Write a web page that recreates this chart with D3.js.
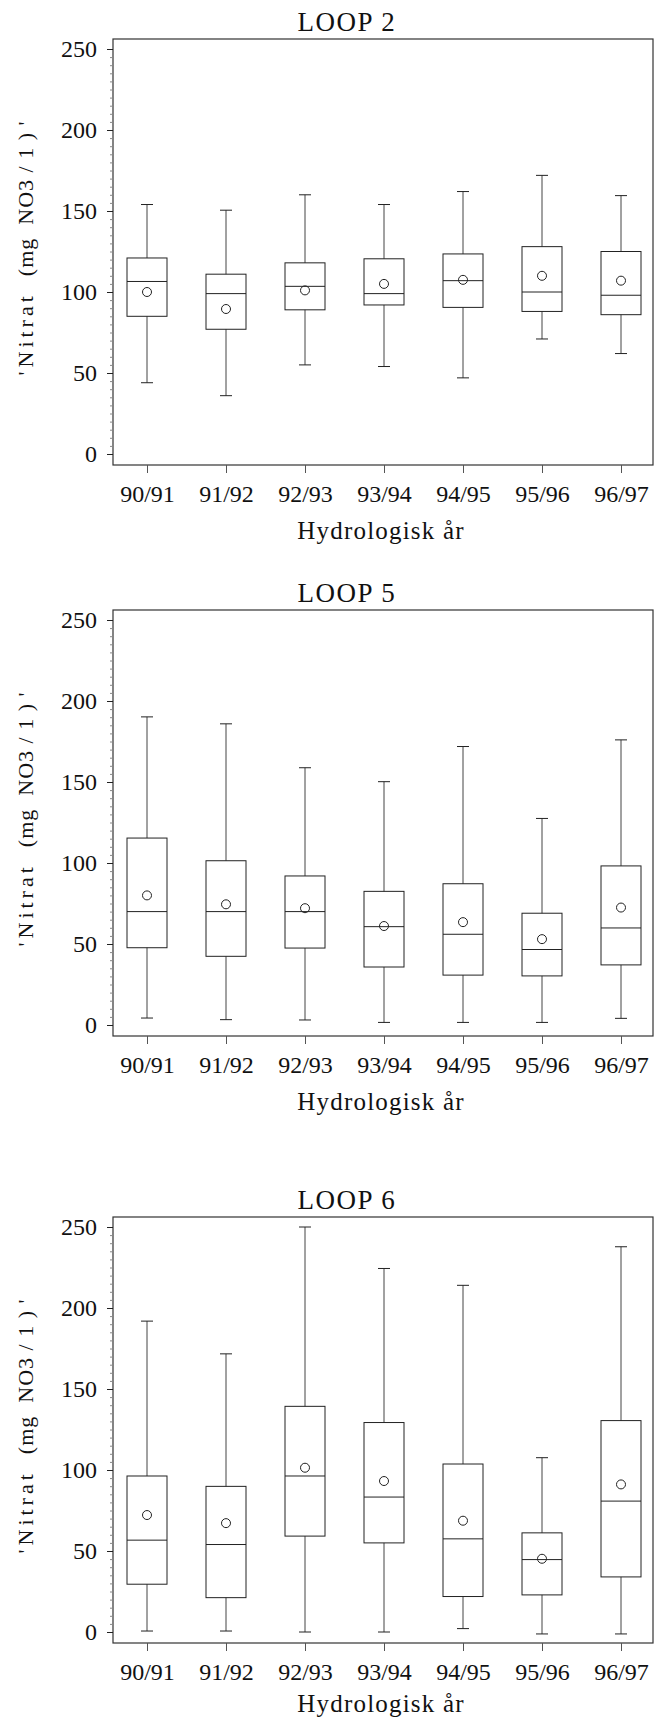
<!DOCTYPE html>
<html>
<head>
<meta charset="utf-8">
<script src="https://cdn.jsdelivr.net/npm/d3@7"></script>
<style>
  body { margin: 0; background: #fff; }
  svg { display: block; }
</style>
</head>
<body>
<div id="chart"></div>
<script>
// hydrological years on the x axis
const years = ["90/91", "91/92", "92/93", "93/94", "94/95", "95/96", "96/97"];
const yTicks = [0, 50, 100, 150, 200, 250];

// LOOP 2 (mg NO3/l)
const loop2Low  = [44, 36, 55, 54, 47, 71, 62];
const loop2Q1   = [85, 77, 89, 92, 90.5, 88, 86];
const loop2Med  = [106.5, 99, 103.5, 99, 107, 100, 98];
const loop2Q3   = [121, 111, 118, 120.5, 123.5, 128, 125];
const loop2High = [154, 150.5, 160, 154, 162, 172, 159.5];
const loop2Mean = [100, 89.5, 101, 105, 107.5, 110, 107];

// LOOP 5
const loop5Low  = [4.3, 3.3, 3.1, 1.6, 1.6, 1.6, 4.1];
const loop5Q1   = [47.7, 42.4, 47.5, 35.8, 30.8, 30.3, 37.1];
const loop5Med  = [70, 70, 70, 60.7, 56, 46.6, 59.9];
const loop5Q3   = [115.4, 101.4, 92, 82.5, 87.2, 69, 98.2];
const loop5High = [190.2, 185.9, 158.8, 150.2, 171.9, 127.5, 176];
const loop5Mean = [80, 74.5, 72.1, 61.1, 63.5, 53, 72.5];

// LOOP 6
const loop6Low  = [0.6, 0.6, 0, 0, 2.1, -1.2, -1.2];
const loop6Q1   = [29.5, 21.2, 59.2, 55, 21.9, 22.9, 34];
const loop6Med  = [56.7, 54, 96.3, 83.3, 57.5, 44.7, 80.8];
const loop6Q3   = [96.3, 89.9, 139.3, 129.3, 103.7, 61.2, 130.5];
const loop6High = [191.9, 171.7, 250, 224.4, 214, 107.6, 237.8];
const loop6Mean = [72.2, 67.2, 101.4, 93.2, 68.7, 45.2, 91.1];

const width = 654, height = 1720;
const left = 113, right = 653, frameH = 426;
const ink = "#222";

let svg = d3.select("#chart")
    .append("svg")
    .attr("width", width)
    .attr("height", height)
    .style("font-family", "'Liberation Serif', 'Times New Roman', serif");

function drawPanel(title, top, low, q1, med, q3, high, mean) {
    let y = d3.scaleLinear()
        .domain([0, 250])
        .range([top + 415, top + 10]);

    let x = d3.scalePoint()
        .domain(years)
        .range([left + 34, right - 32]);

    let g = svg.append("g");

    // title above the frame
    g.append("text")
        .attr("x", 347)
        .attr("y", top - 8)
        .attr("text-anchor", "middle")
        .attr("font-size", "27px")
        .attr("letter-spacing", "1.5px")
        .attr("fill", "#111")
        .text(title);

    // frame
    g.append("rect")
        .attr("x", left)
        .attr("y", top)
        .attr("width", right - left)
        .attr("height", frameH)
        .attr("fill", "none")
        .attr("stroke", "#333")
        .attr("stroke-width", 1.2);

    // minor ticks every 5
    let minor = g.append("g")
        .attr("transform", `translate(${left},0)`)
        .call(d3.axisLeft(y).tickValues(d3.range(0, 251, 5)).tickSize(3).tickFormat(""));
    minor.select(".domain").remove();
    minor.selectAll("line").attr("stroke", "#888");

    // major ticks and labels
    let yAxis = g.append("g")
        .attr("transform", `translate(${left},0)`)
        .call(d3.axisLeft(y).tickValues(yTicks).tickSize(6).tickPadding(10));
    yAxis.select(".domain").remove();
    yAxis.selectAll("line").attr("stroke", ink);
    yAxis.selectAll("text")
        .attr("font-family", "'Liberation Serif', serif")
        .attr("font-size", "24px")
        .attr("fill", "#111");

    // x axis ticks and year labels
    let xAxis = g.append("g")
        .attr("transform", `translate(0,${top + frameH})`)
        .call(d3.axisBottom(x).tickSize(8).tickPadding(12));
    xAxis.select(".domain").remove();
    xAxis.selectAll("line").attr("stroke", "#555");
    xAxis.selectAll("text")
        .attr("font-family", "'Liberation Serif', serif")
        .attr("font-size", "24px")
        .attr("fill", "#111");

    // x axis title (kept inside the page for the last panel)
    g.append("text")
        .attr("x", 381)
        .attr("y", Math.min(top + frameH + 74, height - 8))
        .attr("text-anchor", "middle")
        .attr("font-size", "25px")
        .attr("letter-spacing", "1.2px")
        .attr("fill", "#111")
        .text("Hydrologisk år");

    // y axis title
    let yt = g.append("text")
        .attr("transform", `translate(33,${top + 209}) rotate(-90)`)
        .attr("text-anchor", "middle")
        .attr("font-size", "22px")
        .style("white-space", "pre")
        .attr("fill", "#111");
    yt.append("tspan").attr("letter-spacing", "4px").text("'Nitrat ");
    yt.append("tspan").attr("letter-spacing", "1px").text(" (mg  NO3 / 1 ) '");

    let boxW = 40, capW = 12;

    years.forEach((yr, i) => {
        let cx = x(yr);

        // whiskers
        g.append("line")
            .attr("x1", cx).attr("x2", cx)
            .attr("y1", y(q3[i])).attr("y2", y(high[i]))
            .attr("stroke", "#444");
        g.append("line")
            .attr("x1", cx).attr("x2", cx)
            .attr("y1", y(q1[i])).attr("y2", y(low[i]))
            .attr("stroke", "#444");

        // caps
        [high[i], low[i]].forEach(v => {
            g.append("line")
                .attr("x1", cx - capW / 2).attr("x2", cx + capW / 2)
                .attr("y1", y(v)).attr("y2", y(v))
                .attr("stroke", ink);
        });

        // box
        g.append("rect")
            .attr("x", cx - boxW / 2)
            .attr("y", y(q3[i]))
            .attr("width", boxW)
            .attr("height", y(q1[i]) - y(q3[i]))
            .attr("fill", "none")
            .attr("stroke", ink);

        // median
        g.append("line")
            .attr("x1", cx - boxW / 2).attr("x2", cx + boxW / 2)
            .attr("y1", y(med[i])).attr("y2", y(med[i]))
            .attr("stroke", ink);

        // mean
        g.append("circle")
            .attr("cx", cx)
            .attr("cy", y(mean[i]))
            .attr("r", 4.5)
            .attr("fill", "none")
            .attr("stroke", ink);
    });
}

drawPanel("LOOP 2", 39, loop2Low, loop2Q1, loop2Med, loop2Q3, loop2High, loop2Mean);
drawPanel("LOOP 5", 610, loop5Low, loop5Q1, loop5Med, loop5Q3, loop5High, loop5Mean);
drawPanel("LOOP 6", 1217, loop6Low, loop6Q1, loop6Med, loop6Q3, loop6High, loop6Mean);
</script>
</body>
</html>
